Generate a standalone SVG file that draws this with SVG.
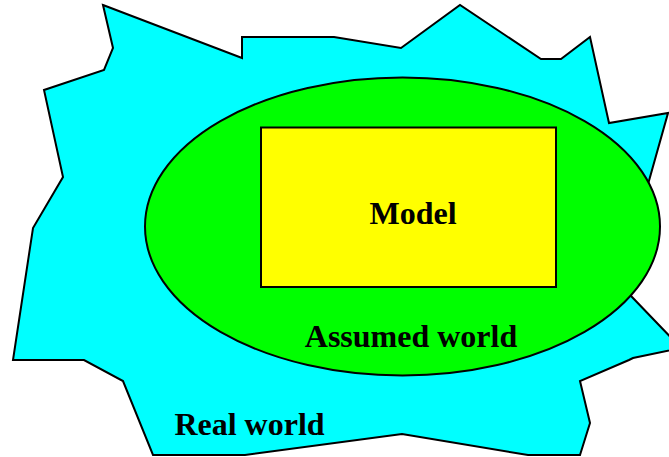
<svg xmlns="http://www.w3.org/2000/svg" width="669" height="457" viewBox="0 0 669 457">
<style>
.shape{stroke:#000;stroke-width:2;stroke-linejoin:miter}
.lbl{font-family:"Liberation Serif","Times New Roman",serif;font-weight:bold;font-size:32px;fill:#000;text-anchor:middle}
</style>
<rect width="669" height="457" fill="#fff"/>
<g id="real-world">
<polygon class="shape" fill="#00ffff" points="103,5 242,58 242,37 334,37 401,48 460,5 541,59 561,59 590,37 609,123 668,113 620,284 632,297 681,348 633,358 629,360 580,381 590,423 580,455 528,455 402,434 245,455 153,455 123,381 84,360 13,360 33,228 63,177 44,90 104,70 113,48"/>
<text class="lbl" x="249.5" y="435">Real world</text>
</g>
<g id="assumed-world">
<ellipse class="shape" fill="#00ff00" cx="402.5" cy="226.5" rx="257.5" ry="149"/>
<text class="lbl" x="411" y="347">Assumed world</text>
</g>
<g id="model">
<rect class="shape" fill="#ffff00" x="261" y="127.5" width="295" height="159.5"/>
<text class="lbl" x="413" y="224">Model</text>
</g>
<g id="connectors"/>
</svg>
